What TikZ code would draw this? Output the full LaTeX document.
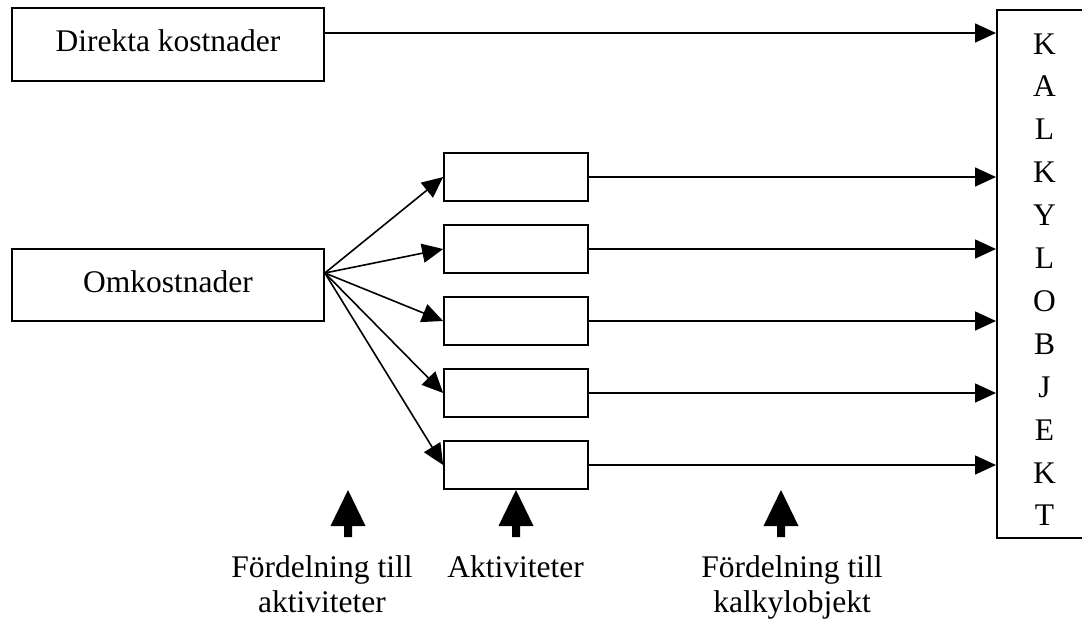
\documentclass[tikz,border=0pt]{standalone}
\usepackage{fontspec}
\setmainfont{Liberation Serif}
\usetikzlibrary{arrows.meta}
\begin{document}
\begin{tikzpicture}[x=1pt,y=-1pt,
  box/.style={draw,line width=1.7pt,inner sep=0pt,text height=20pt,text depth=6pt,
              font=\fontsize{31.5}{35}\selectfont},
  flow/.style={line width=1.6pt,-{Triangle[length=21pt,width=19pt]}},
  txt/.style={inner sep=0pt,anchor=base,font=\fontsize{31.5}{35}\selectfont}]
\fill[white] (0,0) rectangle (1082,621);
\useasboundingbox (0,0) rectangle (1082,621);

% cost sources
\node[box,minimum width=312pt,minimum height=73pt] (dk) at (168,44.5) {Direkta kostnader};
\node[box,minimum width=312pt,minimum height=72pt] (ok) at (168,285) {Omkostnader};

% cost object column
\node[box,minimum width=100pt,minimum height=528pt,anchor=north west] (obj) at (996,9) {};
\foreach \c [count=\i from 0] in {K,A,L,K,Y,L,O,B,J,E,K,T}
  \node[txt] (obj-\i) at (1044.5,54+42.9*\i) {\c};

% direct costs straight to the cost object
\draw[flow] ([yshift=11.5pt]dk.east) -- ([yshift=11.5pt]dk.east -| obj.west);

% activities: overhead fanned out, then passed on to the cost object
\foreach \i/\y in {1/177,2/249,3/321,4/393,5/465} {
  \node[box,minimum width=144pt,minimum height=48pt] (a\i) at (516,\y) {};
  \draw[flow] ([yshift=12pt]ok.east) -- (a\i.west);
  \draw[flow] (a\i.east) -- (a\i.east -| obj.west);
}

% block arrows pointing up at the stages
\foreach \x in {348,516,781}
  \fill (\x,490) -- (\x+17.5,526) -- (\x+4,526) -- (\x+4,537)
        -- (\x-4,537) -- (\x-4,526) -- (\x-17.5,526) -- cycle;

% stage captions (base anchor sits on the last line)
\node[txt,align=center] (l1) at (322,612) {Fördelning till\\aktiviteter};
\node[txt] (l2) at (515.5,577) {Aktiviteter};
\node[txt,align=center] (l3) at (792,612) {Fördelning till\\kalkylobjekt};
\end{tikzpicture}
\end{document}
